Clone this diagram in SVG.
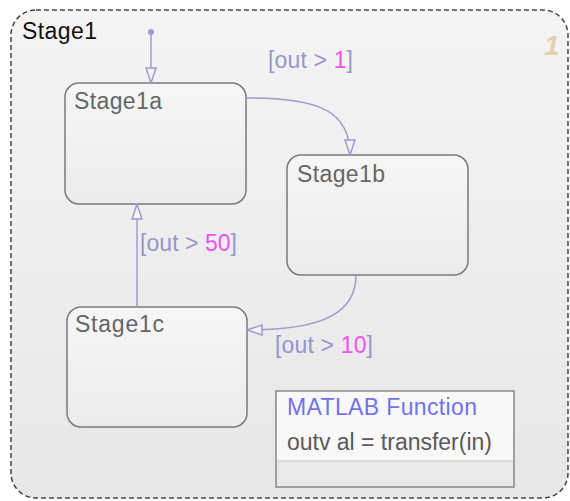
<svg xmlns="http://www.w3.org/2000/svg" width="570" height="501" viewBox="0 0 570 501">
<style>
text{font-family:"Liberation Sans",Arial,sans-serif;font-size:23px}
.state{fill:url(#sg);stroke:#7a7a7a;stroke-width:1.5}
.slabel{fill:#666}
.tr{fill:none;stroke:#9c9cd2;stroke-width:1.5}
.guard{fill:#9696cc}
.num{fill:#f050f0}
</style>
<defs>
<linearGradient id="bg" x1="0" y1="0" x2="0" y2="1">
<stop offset="0" stop-color="#f4f4f4"/>
<stop offset="1" stop-color="#e7e7e7"/>
</linearGradient>
<linearGradient id="sg" x1="0" y1="0" x2="0" y2="1">
<stop offset="0" stop-color="#f6f6f6"/>
<stop offset="1" stop-color="#ececec"/>
</linearGradient>
<marker id="arr" markerUnits="userSpaceOnUse" viewBox="-1 -6 17 12" refX="15" refY="0" markerWidth="17" markerHeight="12" orient="auto">
<path d="M0,-5 L15,0 L0,5 Z" fill="#f2f2f2" stroke="#9c9cd2" stroke-width="1.5"/>
</marker>
</defs>
<g id="Stage1">
<rect x="11" y="10" width="557" height="488" rx="25" fill="url(#bg)" stroke="#444" stroke-width="1.5" stroke-dasharray="5,3"/>
<text x="22" y="39" fill="#111" textLength="75">Stage1</text>
<text x="544" y="55" fill="#e2d2b4" style="font-size:28px;font-weight:bold;font-style:italic">1</text>
</g>
<g id="Stage1a">
<rect class="state" x="65" y="83" width="181" height="121" rx="14"/>
<text class="slabel" x="74" y="109" textLength="88">Stage1a</text>
</g>
<g id="Stage1b">
<rect class="state" x="287" y="155" width="181" height="120" rx="14"/>
<text class="slabel" x="297" y="182" textLength="88">Stage1b</text>
</g>
<g id="Stage1c">
<rect class="state" x="67" y="307" width="180" height="120" rx="14"/>
<text class="slabel" x="75" y="332" textLength="89">Stage1c</text>
</g>
<g id="MatlabFunction">
<rect x="276" y="391" width="238" height="70" fill="#f8f8f8"/>
<rect x="276" y="461" width="238" height="26" fill="#e9e9e9"/>
<line x1="276" y1="461" x2="514" y2="461" stroke="#c8c8c8" stroke-width="1"/>
<rect x="276" y="391" width="238" height="96" fill="none" stroke="#888" stroke-width="1.5"/>
<text x="287" y="415" fill="#7272ee" textLength="190">MATLAB Function</text>
<text x="287" y="450" fill="#5a5a5a" textLength="205">outv al = transfer(in)</text>
</g>
<g id="connectors">
<circle cx="151" cy="32" r="3" fill="#9c9cd2"/>
<path class="tr" d="M151,32 L151,83" marker-end="url(#arr)"/>
<path class="tr" d="M246,98 C318,98 350,110 350,155" marker-end="url(#arr)"/>
<path class="tr" d="M356,275 C356,312 325,330 247,330" marker-end="url(#arr)"/>
<path class="tr" d="M137,307 L137,204" marker-end="url(#arr)"/>
<text class="guard" x="268" y="68" textLength="85">[out &gt; <tspan class="num">1</tspan>]</text>
<text class="guard" x="140" y="251" textLength="97">[out &gt; <tspan class="num">50</tspan>]</text>
<text class="guard" x="275" y="353" textLength="98">[out &gt; <tspan class="num">10</tspan>]</text>
</g>
</svg>
